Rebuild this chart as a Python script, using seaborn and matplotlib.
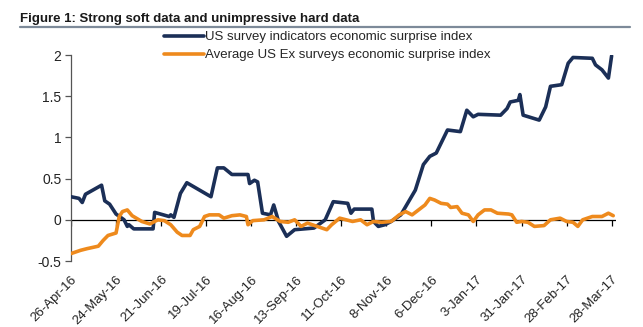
import matplotlib
matplotlib.use("Agg")
import matplotlib.pyplot as plt
from matplotlib.lines import Line2D
import pandas as pd
import seaborn as sns

# Economic surprise indices
survey_dates = [
    "2016-04-26", "2016-05-01", "2016-05-03", "2016-05-05", "2016-05-15", "2016-05-17",
    "2016-05-20", "2016-05-24", "2016-05-29", "2016-05-31", "2016-06-01", "2016-06-04",
    "2016-06-16", "2016-06-17", "2016-06-26", "2016-06-27", "2016-06-29", "2016-07-03",
    "2016-07-07", "2016-07-22", "2016-07-26", "2016-07-30", "2016-08-04", "2016-08-14",
    "2016-08-15", "2016-08-18", "2016-08-20", "2016-08-23", "2016-08-28", "2016-08-30",
    "2016-09-02", "2016-09-07", "2016-09-12", "2016-09-24", "2016-10-01", "2016-10-06",
    "2016-10-15", "2016-10-17", "2016-10-19", "2016-10-30", "2016-10-31", "2016-11-03",
    "2016-11-07", "2016-11-11", "2016-11-17", "2016-11-26", "2016-12-01", "2016-12-05",
    "2016-12-09", "2016-12-16", "2016-12-24", "2016-12-28", "2017-01-01", "2017-01-04",
    "2017-01-18", "2017-01-22", "2017-01-24", "2017-01-29", "2017-01-30", "2017-02-01",
    "2017-02-11", "2017-02-15", "2017-02-18", "2017-02-25", "2017-03-01", "2017-03-04",
    "2017-03-16", "2017-03-18", "2017-03-22", "2017-03-26", "2017-03-28",
]
survey_values = [
    0.28, 0.26, 0.21, 0.31, 0.42, 0.23,
    0.19, 0.07, 0.00, -0.08, -0.06, -0.11,
    -0.11, 0.09, 0.04, 0.06, 0.03, 0.32,
    0.45, 0.28, 0.63, 0.63, 0.55, 0.55,
    0.44, 0.48, 0.46, 0.08, 0.06, 0.18,
    -0.02, -0.20, -0.12, -0.10, 0.00, 0.22,
    0.20, 0.08, 0.13, 0.13, -0.02, -0.08,
    -0.06, -0.02, 0.06, 0.36, 0.67, 0.77,
    0.81, 1.09, 1.07, 1.33, 1.25, 1.28,
    1.27, 1.35, 1.43, 1.45, 1.52, 1.27,
    1.21, 1.37, 1.62, 1.64, 1.90, 1.97,
    1.96, 1.88, 1.82, 1.72, 1.99,
]

hard_dates = [
    "2016-04-26", "2016-05-02", "2016-05-06", "2016-05-13", "2016-05-16", "2016-05-19",
    "2016-05-24", "2016-05-26", "2016-05-28", "2016-05-31", "2016-06-03", "2016-06-09",
    "2016-06-14", "2016-06-19", "2016-06-23", "2016-06-27", "2016-07-01", "2016-07-04",
    "2016-07-09", "2016-07-11", "2016-07-15", "2016-07-18", "2016-07-21", "2016-07-27",
    "2016-07-30", "2016-08-04", "2016-08-09", "2016-08-13", "2016-08-14", "2016-08-17",
    "2016-08-24", "2016-08-29", "2016-09-03", "2016-09-08", "2016-09-12", "2016-09-16",
    "2016-09-20", "2016-09-26", "2016-10-02", "2016-10-05", "2016-10-10", "2016-10-14",
    "2016-10-18", "2016-10-23", "2016-10-27", "2016-10-31", "2016-11-05", "2016-11-11",
    "2016-11-16", "2016-11-20", "2016-11-24", "2016-11-28", "2016-12-02", "2016-12-05",
    "2016-12-08", "2016-12-12", "2016-12-16", "2016-12-18", "2016-12-22", "2016-12-25",
    "2016-12-29", "2017-01-01", "2017-01-04", "2017-01-08", "2017-01-12", "2017-01-16",
    "2017-01-23", "2017-01-25", "2017-01-28", "2017-01-31", "2017-02-04", "2017-02-08",
    "2017-02-14", "2017-02-18", "2017-02-24", "2017-02-28", "2017-03-04", "2017-03-07",
    "2017-03-10", "2017-03-16", "2017-03-22", "2017-03-26", "2017-03-29",
]
hard_values = [
    -0.41, -0.37, -0.35, -0.32, -0.25, -0.19,
    -0.16, 0.04, 0.10, 0.12, 0.05, -0.02,
    -0.05, 0.00, -0.01, -0.06, -0.15, -0.19,
    -0.19, -0.12, -0.08, 0.04, 0.06, 0.06,
    0.02, 0.05, 0.06, 0.04, -0.06, -0.01,
    0.00, 0.04, -0.02, -0.03, 0.00, -0.08,
    -0.04, -0.08, -0.12, -0.06, 0.02, 0.00,
    -0.02, 0.00, -0.06, -0.02, -0.03, -0.02,
    0.06, 0.10, 0.06, 0.12, 0.18, 0.26,
    0.24, 0.20, 0.19, 0.15, 0.16, 0.08,
    0.06, -0.02, 0.06, 0.12, 0.12, 0.08,
    0.07, 0.06, -0.03, -0.02, -0.03, -0.08,
    -0.07, 0.00, 0.02, -0.02, -0.03, -0.08,
    0.00, 0.04, 0.04, 0.08, 0.05,
]

series_names = [
    "US survey indicators economic surprise index",
    "Average US Ex surveys economic surprise index",
]
series_colors = ["#1b2f57", "#ee8a1d"]

x_tick_labels = [
    "26-Apr-16", "24-May-16", "21-Jun-16", "19-Jul-16", "16-Aug-16", "13-Sep-16",
    "11-Oct-16", "8-Nov-16", "6-Dec-16", "3-Jan-17", "31-Jan-17", "28-Feb-17", "28-Mar-17",
]
y_ticks = [-0.5, 0, 0.5, 1, 1.5, 2]
y_tick_labels = ["-0.5", "0", "0.5", "1", "1.5", "2"]

title = "Figure 1: Strong soft data and unimpressive hard data"

# Long-form table for seaborn
df = pd.concat([
    pd.DataFrame({"date": pd.to_datetime(survey_dates), "value": survey_values,
                  "series": series_names[0]}),
    pd.DataFrame({"date": pd.to_datetime(hard_dates), "value": hard_values,
                  "series": series_names[1]}),
], ignore_index=True)

sns.set_theme(style="white")
plt.rcParams["font.family"] = ["Liberation Sans", "DejaVu Sans"]

fig = plt.figure(figsize=(6.43, 3.27), dpi=100)
ax = fig.add_axes([0.1104, 0.2018, 0.8483, 0.63])

ax.axhline(0, color="black", lw=0.9, zorder=1)
sns.lineplot(data=df, x="date", y="value", hue="series",
             palette=dict(zip(series_names, series_colors)),
             linewidth=2.6, ax=ax, legend=False, zorder=3)

tick_dates = pd.to_datetime(x_tick_labels, format="%d-%b-%y")
# small downward ticks on the zero line
ax.plot(tick_dates, [0] * len(tick_dates), ls="none", marker=3,
        markersize=4, color="black", markeredgewidth=0.9, zorder=2)

ax.set_xlim(pd.Timestamp("2016-04-26"), pd.Timestamp("2017-03-31"))
ax.set_ylim(-0.5, 2)
ax.set_xticks(tick_dates)
ax.set_xticklabels(x_tick_labels, rotation=45, ha="right", rotation_mode="anchor",
                   fontsize=9.5, color="#222222")
ax.set_yticks(y_ticks)
ax.set_yticklabels(y_tick_labels, fontsize=10, color="#222222")
ax.set_xlabel("")
ax.set_ylabel("")

for side in ["top", "right", "bottom"]:
    ax.spines[side].set_visible(False)
ax.spines["left"].set_color("#555555")
ax.spines["left"].set_linewidth(0.9)
ax.tick_params(axis="y", which="both", left=True, length=4, width=0.9,
               color="#555555", pad=3)
ax.tick_params(axis="x", which="both", bottom=False, length=0, pad=9)

handles = [Line2D([0], [0], color=c, lw=2.6) for c in series_colors]
fig.legend(handles, series_names, loc="upper left",
           bbox_to_anchor=(164 / 643, 1 - 31 / 327), frameon=False,
           fontsize=9.5, handlelength=3.0, handletextpad=0.1,
           labelspacing=0.45, borderpad=0, borderaxespad=0)

fig.text(20 / 643, 1 - 19 / 327, title, fontsize=9.5, fontweight="bold",
         color="#1a1a1a", va="center", ha="left")
fig.add_artist(Line2D([20 / 643, 630 / 643], [1 - 27 / 327] * 2,
                      color="#7d8a99", lw=1.6))

fig.savefig("out.png", dpi=100)
